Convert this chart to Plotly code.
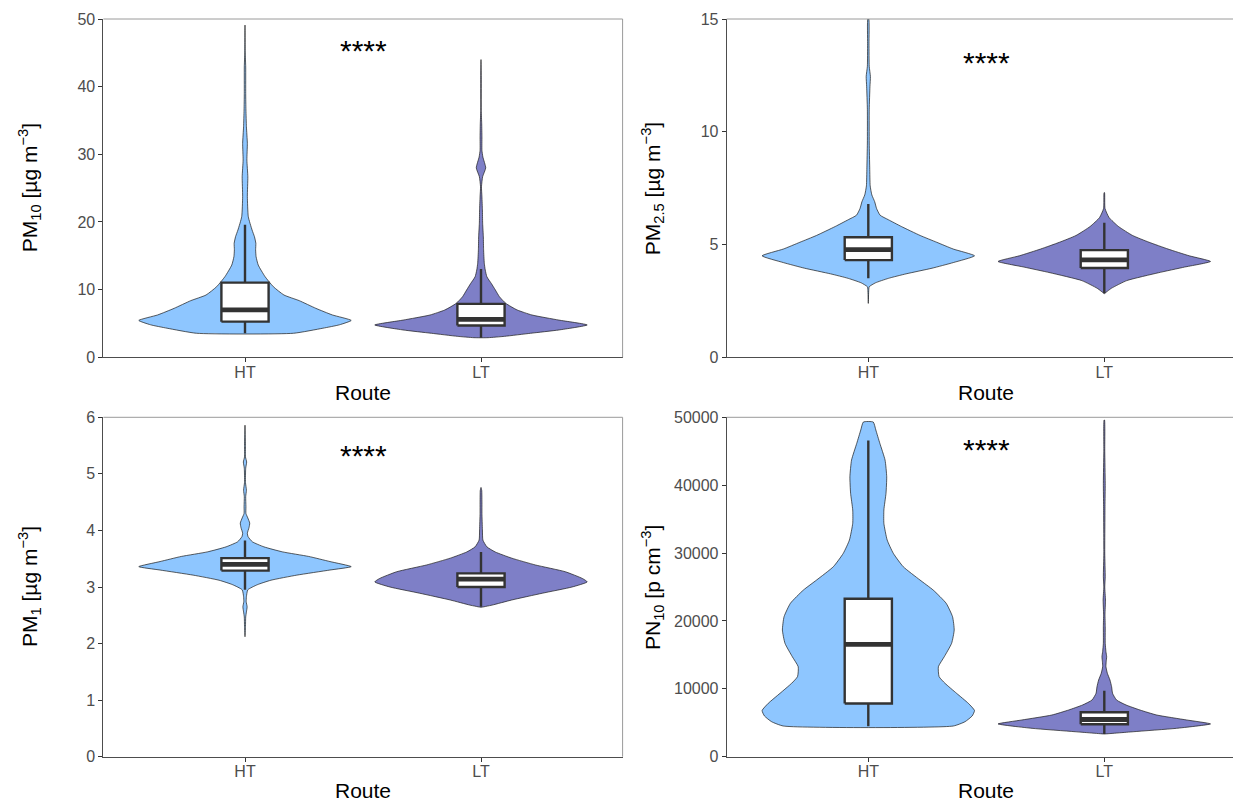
import plotly.graph_objects as go

# ---------------- data ----------------
routes = ["HT", "LT"]
route_pos = [1, 2]
fill_colors = ["#8EC6FF", "#7E7FC7"]

# Violin density profiles (value levels, half-width in category units)
pm10_ht_y = [3.55, 4.3, 4.8, 5.45, 6.26, 7.24, 8.37, 9.21, 10.44, 11.92, 13.64, 14.87, 15.9, 16.84, 17.83, 18.81, 20.78, 23.74, 26.69, 29.15, 31.61, 34.08, 36.54, 39.0, 42.9, 45.0, 49.1]
pm10_ht_w = [0.205, 0.33, 0.40, 0.45, 0.37, 0.30, 0.23, 0.165, 0.12, 0.085, 0.056, 0.047, 0.045, 0.046, 0.040, 0.030, 0.014, 0.010, 0.012, 0.008, 0.010, 0.006, 0.004, 0.003, 0.003, 0.001, 0.0]
pm10_lt_y = [2.9, 3.1, 3.55, 4.04, 4.78, 5.5, 6.25, 7.0, 7.97, 8.96, 9.94, 10.9, 11.9, 12.9, 13.9, 15.9, 17.8, 19.8, 21.8, 23.7, 25.2, 26.7, 28.0, 29.6, 30.6, 32.6, 34.5, 36.5, 41.4, 44.0]
pm10_lt_w = [0.03, 0.1, 0.21, 0.33, 0.45, 0.33, 0.216, 0.153, 0.105, 0.078, 0.061, 0.044, 0.025, 0.018, 0.014, 0.011, 0.010, 0.007, 0.006, 0.004, 0.002, 0.007, 0.02, 0.008, 0.004, 0.004, 0.003, 0.001, 0.001, 0.0]

pm25_ht_y = [2.39, 3.0, 3.13, 3.3, 3.5, 3.7, 3.95, 4.2, 4.5, 4.8, 5.1, 5.4, 5.8, 6.1, 6.3, 6.6, 6.9, 7.2, 7.6, 8.4, 9.5, 11.0, 12.0, 12.45, 12.9, 13.9, 15.0]
pm25_ht_w = [0.0, 0.002, 0.004, 0.03, 0.085, 0.16, 0.27, 0.36, 0.45, 0.36, 0.29, 0.22, 0.14, 0.085, 0.05, 0.035, 0.027, 0.015, 0.008, 0.006, 0.004, 0.004, 0.007, 0.009, 0.004, 0.003, 0.002]
pm25_lt_y = [2.82, 3.06, 3.4, 3.75, 4.0, 4.25, 4.5, 4.8, 5.1, 5.4, 5.8, 6.2, 6.6, 7.3]
pm25_lt_w = [0.0, 0.03, 0.095, 0.23, 0.34, 0.45, 0.36, 0.27, 0.19, 0.12, 0.06, 0.02, 0.003, 0.001]

pm1_ht_y = [2.12, 2.3, 2.47, 2.56, 2.65, 2.74, 2.83, 2.95, 3.04, 3.12, 3.21, 3.30, 3.36, 3.45, 3.54, 3.62, 3.71, 3.80, 3.89, 3.95, 4.05, 4.13, 4.22, 4.3, 4.42, 4.6, 4.71, 4.85, 5.1, 5.21, 5.3, 5.5, 5.86]
pm1_ht_w = [0.0, 0.002, 0.003, 0.006, 0.009, 0.005, 0.006, 0.012, 0.052, 0.11, 0.22, 0.36, 0.45, 0.36, 0.27, 0.16, 0.08, 0.031, 0.013, 0.01, 0.017, 0.02, 0.012, 0.004, 0.004, 0.003, 0.006, 0.002, 0.003, 0.007, 0.002, 0.002, 0.0]
pm1_lt_y = [2.64, 2.68, 2.77, 2.89, 3.0, 3.09, 3.15, 3.27, 3.39, 3.51, 3.62, 3.71, 3.83, 4.01, 4.3, 4.5, 4.71, 4.76]
pm1_lt_w = [0.0, 0.047, 0.13, 0.26, 0.386, 0.45, 0.43, 0.357, 0.23, 0.13, 0.06, 0.025, 0.008, 0.006, 0.004, 0.004, 0.003, 0.0]

pn10_ht_y = [4520, 5160, 6000, 6800, 7860, 9340, 10810, 11790, 13260, 14730, 16700, 18660, 20620, 22600, 24550, 26030, 27990, 29960, 31920, 34380, 36340, 38800, 41240, 43700, 46160, 48120, 49300]
pn10_ht_w = [0.36, 0.41, 0.44, 0.45, 0.424, 0.374, 0.325, 0.30, 0.297, 0.322, 0.353, 0.364, 0.357, 0.33, 0.275, 0.219, 0.148, 0.106, 0.08, 0.066, 0.066, 0.075, 0.078, 0.071, 0.049, 0.032, 0.021]
pn10_lt_y = [3340, 3680, 4180, 4830, 5410, 6140, 6880, 7620, 8350, 9340, 10310, 11300, 12280, 13260, 14000, 14730, 15470, 16700, 19150, 21000, 23080, 25000, 26510, 30000, 36830, 40270, 45000, 49600]
pn10_lt_w = [0.0, 0.123, 0.306, 0.45, 0.349, 0.222, 0.151, 0.092, 0.052, 0.035, 0.031, 0.024, 0.013, 0.007, 0.008, 0.01, 0.007, 0.004, 0.004, 0.003, 0.005, 0.002, 0.004, 0.002, 0.003, 0.004, 0.002, 0.001]

# Box statistics [HT, LT]
pm10_lower = [3.55, 2.9]
pm10_q1 = [5.27, 4.7]
pm10_median = [7.0, 5.6]
pm10_q3 = [11.03, 7.9]
pm10_upper = [19.6, 13.05]

pm25_lower = [3.5, 2.84]
pm25_q1 = [4.31, 3.96]
pm25_median = [4.77, 4.32]
pm25_q3 = [5.32, 4.75]
pm25_upper = [6.8, 5.97]

pm1_lower = [2.95, 2.65]
pm1_q1 = [3.29, 3.0]
pm1_median = [3.40, 3.14]
pm1_q3 = [3.51, 3.24]
pm1_upper = [3.82, 3.62]

pn10_lower = [4500, 3350]
pn10_q1 = [7830, 4780]
pn10_median = [16550, 5480]
pn10_q3 = [23260, 6550]
pn10_upper = [46600, 9720]

y_titles = ["PM<sub>10</sub> [µg m<sup>−3</sup>]", "PM<sub>2.5</sub> [µg m<sup>−3</sup>]",
            "PM<sub>1</sub> [µg m<sup>−3</sup>]", "PN<sub>10</sub> [p cm<sup>−3</sup>]"]
y_ticks = [[0, 10, 20, 30, 40, 50], [0, 5, 10, 15], [0, 1, 2, 3, 4, 5, 6],
           [0, 10000, 20000, 30000, 40000, 50000]]
y_max = [50, 15, 6, 50000]
signif_label = "****"
signif_y = [45.3, 13.08, 5.33, 45240]
x_title = "Route"

# ---------------- layout geometry (pixels) ----------------
W, H = 1233, 802
panels_px = [  # x0, x1, ytop, ybottom
    (103.4, 622.6, 19.0, 357.3),
    (726.7, 1233.0, 19.0, 357.3),
    (103.4, 622.6, 417.3, 756.7),
    (726.7, 1233.0, 417.3, 756.7),
]
route_title_dy = [35, 35, 34, 34]
unit_px = 236.0
title_x_px = [29, 652, 29, 652]


def fy(py):
    return 1 - py / H


violins = [
    [(pm10_ht_y, pm10_ht_w), (pm10_lt_y, pm10_lt_w)],
    [(pm25_ht_y, pm25_ht_w), (pm25_lt_y, pm25_lt_w)],
    [(pm1_ht_y, pm1_ht_w), (pm1_lt_y, pm1_lt_w)],
    [(pn10_ht_y, pn10_ht_w), (pn10_lt_y, pn10_lt_w)],
]
boxes = [
    (pm10_lower, pm10_q1, pm10_median, pm10_q3, pm10_upper),
    (pm25_lower, pm25_q1, pm25_median, pm25_q3, pm25_upper),
    (pm1_lower, pm1_q1, pm1_median, pm1_q3, pm1_upper),
    (pn10_lower, pn10_q1, pn10_median, pn10_q3, pn10_upper),
]

BOX_HALF = 0.1
BOX_COLOR = "#333333"
FONT = "Liberation Sans, Arial, sans-serif"

fig = go.Figure()
annotations = []
shapes = []

for i in range(4):
    sfx = "" if i == 0 else str(i + 1)
    xa, ya = "x" + sfx, "y" + sfx
    for j, (vy, vw) in enumerate(violins[i]):
        p = route_pos[j]
        xs = [p - w for w in vw] + [p + w for w in reversed(vw)] + [p - vw[0]]
        ys = list(vy) + list(reversed(vy)) + [vy[0]]
        fig.add_trace(go.Scatter(x=xs, y=ys, mode="lines", fill="toself",
                                 fillcolor=fill_colors[j],
                                 line=dict(color="#1a1a1a", width=0.7, shape="spline", smoothing=0.5),
                                 hoverinfo="skip", showlegend=False,
                                 xaxis=xa, yaxis=ya))
    lo, q1, med, q3, hi = boxes[i]
    for j in range(2):
        p = route_pos[j]
        fig.add_trace(go.Scatter(x=[p, p, None, p, p], y=[lo[j], q1[j], None, q3[j], hi[j]],
                                 mode="lines", line=dict(color=BOX_COLOR, width=2.4),
                                 hoverinfo="skip", showlegend=False, xaxis=xa, yaxis=ya))
        fig.add_trace(go.Scatter(x=[p - BOX_HALF, p + BOX_HALF, p + BOX_HALF, p - BOX_HALF, p - BOX_HALF],
                                 y=[q1[j], q1[j], q3[j], q3[j], q1[j]],
                                 mode="lines", fill="toself", fillcolor="white",
                                 line=dict(color=BOX_COLOR, width=2.4),
                                 hoverinfo="skip", showlegend=False, xaxis=xa, yaxis=ya))
        fig.add_trace(go.Scatter(x=[p - BOX_HALF, p + BOX_HALF], y=[med[j], med[j]],
                                 mode="lines", line=dict(color=BOX_COLOR, width=4.8),
                                 hoverinfo="skip", showlegend=False, xaxis=xa, yaxis=ya))

    x0, x1, yt, yb = panels_px[i]
    xr1 = 0.4 + (x1 - x0) / unit_px
    axis_common = dict(showgrid=False, zeroline=False, showline=True, linecolor="#4d4d4d",
                       linewidth=1, ticks="outside", ticklen=4, tickcolor="#333333",
                       automargin=False,
                       tickfont=dict(family=FONT, size=16, color="#4d4d4d"))
    fig.layout["xaxis" + sfx] = dict(domain=[x0 / W, x1 / W], range=[0.4, xr1],
                                     tickvals=route_pos, ticktext=routes,
                                     ticklabelstandoff=-4,
                                     anchor=ya, fixedrange=True, **axis_common)
    fig.layout["yaxis" + sfx] = dict(domain=[fy(yb), fy(yt)], range=[0, y_max[i]],
                                     tickvals=y_ticks[i], tickformat="d", anchor=xa,
                                     fixedrange=True, **axis_common)
    shapes.append(dict(type="line", xref=xa + " domain", yref=ya + " domain",
                       x0=0, x1=1, y0=1, y1=1, line=dict(color="#9a9a9a", width=1)))
    if x1 < W - 1:
        shapes.append(dict(type="line", xref=xa + " domain", yref=ya + " domain",
                           x0=1, x1=1, y0=0, y1=1, line=dict(color="#9a9a9a", width=1)))
    annotations.append(dict(text=y_titles[i], xref="paper", yref="paper",
                            x=title_x_px[i] / W, y=fy((yt + yb) / 2),
                            textangle=-90, showarrow=False, xanchor="center", yanchor="middle",
                            font=dict(family=FONT, size=21, color="black")))
    full_right = x0 + 2.2 * unit_px
    annotations.append(dict(text=x_title, xref="paper", yref="paper",
                            x=(x0 + full_right) / 2 / W, y=fy(yb + route_title_dy[i]),
                            showarrow=False, xanchor="center", yanchor="middle",
                            font=dict(family=FONT, size=21, color="black")))
    annotations.append(dict(text=signif_label, xref=xa, yref=ya, x=1.5, y=signif_y[i],
                            showarrow=False, xanchor="center", yanchor="middle",
                            font=dict(family=FONT, size=30, color="black")))

fig.update_layout(width=W, height=H, margin=dict(l=0, r=0, t=0, b=0, autoexpand=False),
                  paper_bgcolor="white", plot_bgcolor="white",
                  annotations=annotations, shapes=shapes, showlegend=False)

fig.write_html("out.html", config={"displayModeBar": False},
               post_script="document.body.style.margin='0';document.body.style.overflow='hidden';")
